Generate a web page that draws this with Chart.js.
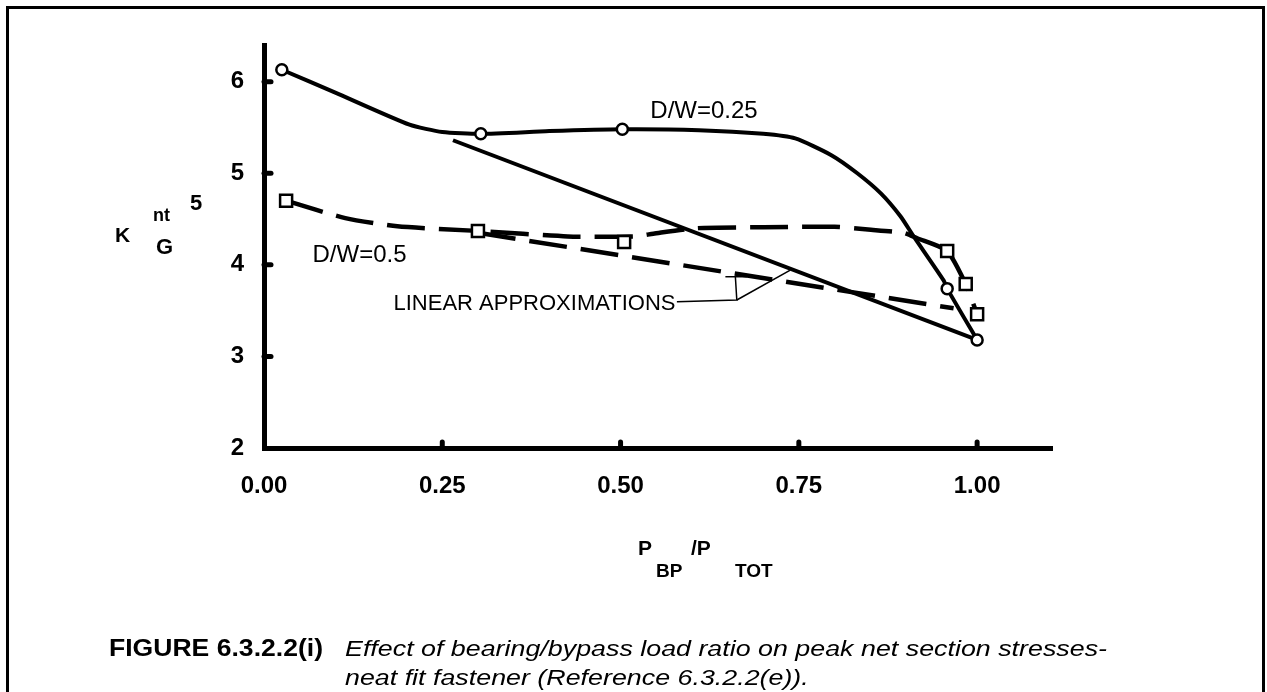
<!DOCTYPE html>
<html>
<head>
<meta charset="utf-8">
<script src="https://cdn.jsdelivr.net/npm/chart.js@4.4.1/dist/chart.umd.min.js"></script>
<style>
  html, body { margin: 0; padding: 0; background: #fff; overflow: hidden; }
  #wrap { position: relative; width: 1267px; height: 692px; }
  #frame { position: absolute; left: 6px; top: 6px; width: 1259px; height: 720px;
           border: 3px solid #000; box-sizing: border-box; }
  canvas { position: absolute; left: 0; top: 0; }
</style>
</head>
<body>
<div id="wrap">
  <div id="frame"></div>
  <canvas id="chart" width="1267" height="692"></canvas>
</div>
<script>
// tick values
const xTicks = [0, 0.25, 0.5, 0.75, 1.0];
const yTicks = [2, 3, 4, 5, 6];

// D/W = 0.25 (solid curve, circles)
const dw25CurveX = [0.025, 0.10, 0.204, 0.25, 0.304, 0.40, 0.5025, 0.61, 0.70, 0.745, 0.795, 0.832, 0.865, 0.8925, 0.911, 0.953, 0.958, 1.0];
const dw25CurveY = [6.13, 5.88, 5.53, 5.45, 5.43, 5.46, 5.48, 5.47, 5.43, 5.38, 5.20, 5.00, 4.78, 4.53, 4.31, 3.83, 3.74, 3.18];
const dw25PointX = [0.025, 0.304, 0.5025, 0.958, 1.0];
const dw25PointY = [6.13, 5.43, 5.48, 3.74, 3.18];
const dw25LinearX = [0.265, 1.0];
const dw25LinearY = [5.36, 3.18];

// D/W = 0.5 (dashed curve, squares)
const dw50CurveX = [0.031, 0.114, 0.187, 0.30, 0.426, 0.52, 0.546, 0.607, 0.70, 0.80, 0.847, 0.897, 0.916, 0.958, 0.984, 1.0];
const dw50CurveY = [4.70, 4.51, 4.42, 4.37, 4.31, 4.31, 4.34, 4.40, 4.41, 4.415, 4.385, 4.35, 4.29, 4.15, 3.79, 3.46];
const dw50PointX = [0.031, 0.300, 0.505, 0.958, 0.984, 1.0];
const dw50PointY = [4.70, 4.37, 4.25, 4.15, 3.79, 3.46];
const dw50LinearX = [0.30, 0.967];
const dw50LinearY = [4.35, 3.525];

// leader lines for "LINEAR APPROXIMATIONS"
const leaderAX = [0.579, 0.663, 0.661];
const leaderAY = [3.597, 3.616, 3.87];
const leaderBX = [0.663, 0.738];
const leaderBY = [3.616, 3.943];
const leaderBarX = [0.647, 0.677];
const leaderBarY = [3.87, 3.87];

// in-plot labels
const noteText = ['D/W=0.25', 'D/W=0.5', 'LINEAR APPROXIMATIONS'];
const noteX = [0.617, 0.134, 0.577];
const noteY = [5.674, 4.10, 3.578];

const pts = (xs, ys) => xs.map((x, i) => ({ x: x, y: ys[i] }));

const FONT = '"Liberation Sans", Arial, Helvetica, sans-serif';

function lineSet(data, opts) {
  return Object.assign({
    data: data,
    borderColor: '#000',
    borderWidth: 4,
    pointRadius: 0,
    fill: false,
    tension: 0,
    order: 5
  }, opts);
}

const annotations = {
  id: 'annotations',
  afterDatasetsDraw(chart) {
    const ctx = chart.ctx;
    const xs = chart.scales.x, ys = chart.scales.y;
    ctx.save();
    ctx.fillStyle = '#000';
    ctx.strokeStyle = '#000';

    // small inward tick bumps
    ctx.lineCap = 'round';
    ctx.lineWidth = 5;
    xs.ticks.forEach(t => {
      if (t.value === 0) return;
      const px = xs.getPixelForValue(t.value);
      ctx.beginPath();
      ctx.moveTo(px, xs.top);
      ctx.lineTo(px, xs.top - 6);
      ctx.stroke();
    });
    ys.ticks.forEach(t => {
      if (t.value === 2) return;
      const py = ys.getPixelForValue(t.value);
      ctx.beginPath();
      ctx.moveTo(ys.right, py);
      ctx.lineTo(ys.right + 7, py);
      ctx.stroke();
    });

    // notes inside the plot
    ctx.textBaseline = 'middle';
    noteText.forEach((s, i) => {
      const px = xs.getPixelForValue(noteX[i]);
      const py = ys.getPixelForValue(noteY[i]);
      if (i === 2) {
        ctx.font = '22px ' + FONT;
        ctx.textAlign = 'right';
      } else {
        ctx.font = '24px ' + FONT;
        ctx.textAlign = 'center';
      }
      ctx.fillText(s, px, py);
    });

    // y axis title  K^nt_G  5
    ctx.textBaseline = 'alphabetic';
    ctx.textAlign = 'left';
    ctx.font = 'bold 21px ' + FONT;
    ctx.fillText('K', 115, 242);
    ctx.font = 'bold 18px ' + FONT;
    ctx.fillText('nt', 153, 221);
    ctx.font = 'bold 22px ' + FONT;
    ctx.fillText('G', 156, 254);
    ctx.fillText('5', 190, 210);

    // x axis title  P_BP / P_TOT
    ctx.font = 'bold 21px ' + FONT;
    ctx.fillText('P', 638, 555);
    ctx.fillText('/P', 691, 555);
    ctx.font = 'bold 19px ' + FONT;
    ctx.fillText('BP', 656, 577);
    ctx.fillText('TOT', 735, 577);

    // caption
    ctx.font = 'bold 23px ' + FONT;
    const capW = ctx.measureText('FIGURE 6.3.2.2(i)').width;
    ctx.save();
    ctx.translate(109, 656);
    ctx.scale(214 / capW, 1);
    ctx.fillText('FIGURE 6.3.2.2(i)', 0, 0);
    ctx.restore();

    ctx.font = 'italic 22px ' + FONT;
    const line1 = 'Effect of bearing/bypass load ratio on peak net section stresses-';
    const line2 = 'neat fit fastener (Reference 6.3.2.2(e)).';
    const sx = 762 / ctx.measureText(line1).width;
    ctx.save();
    ctx.translate(345, 656);
    ctx.scale(sx, 1);
    ctx.fillText(line1, 0, 0);
    ctx.restore();
    ctx.save();
    ctx.translate(345, 685);
    ctx.scale(sx, 1);
    ctx.fillText(line2, 0, 0);
    ctx.restore();

    ctx.restore();
  }
};

new Chart(document.getElementById('chart'), {
  type: 'line',
  data: {
    datasets: [
      // markers on top
      lineSet(pts(dw25PointX, dw25PointY), {
        showLine: false, pointStyle: 'circle', pointRadius: 5.5,
        pointBorderWidth: 2.5, pointBackgroundColor: '#fff', pointBorderColor: '#000', order: 1
      }),
      lineSet(pts(dw50PointX, dw50PointY), {
        showLine: false, pointStyle: 'rect', pointRadius: 8.5,
        pointBorderWidth: 2.5, pointBackgroundColor: '#fff', pointBorderColor: '#000', order: 1
      }),
      lineSet(pts(dw25CurveX, dw25CurveY), { tension: 0.2 }),
      lineSet(pts(dw25LinearX, dw25LinearY)),
      lineSet(pts(dw50CurveX, dw50CurveY), { tension: 0.2, borderDash: [38, 14], borderWidth: 4.5 }),
      lineSet(pts(dw50LinearX, dw50LinearY), { borderDash: [38, 14], borderWidth: 4.5 }),
      lineSet(pts(leaderAX, leaderAY), { borderWidth: 1.5 }),
      lineSet(pts(leaderBX, leaderBY), { borderWidth: 1.5 }),
      lineSet(pts(leaderBarX, leaderBarY), { borderWidth: 1.5 })
    ]
  },
  options: {
    responsive: false,
    animation: false,
    events: [],
    layout: {
      autoPadding: false,
      padding: { left: 164, top: 45, right: 215, bottom: 184 }
    },
    plugins: { legend: { display: false }, tooltip: { enabled: false } },
    scales: {
      x: {
        type: 'linear',
        min: 0,
        max: 1.105,
        afterFit: s => { s.height = 60; },
        afterBuildTicks: s => { s.ticks = xTicks.map(v => ({ value: v })); },
        grid: { display: false, drawTicks: false },
        border: { display: true, color: '#000', width: 5 },
        ticks: {
          padding: 24,
          color: '#000',
          maxRotation: 0,
          font: { family: FONT, size: 24, weight: 'bold' },
          callback: v => v.toFixed(2)
        }
      },
      y: {
        type: 'linear',
        min: 2,
        max: 6.40,
        afterFit: s => { s.width = 100; },
        afterBuildTicks: s => { s.ticks = yTicks.map(v => ({ value: v })); },
        grid: { display: false, drawTicks: false },
        border: { display: true, color: '#000', width: 5 },
        ticks: {
          padding: 20,
          color: '#000',
          font: { family: FONT, size: 24, weight: 'bold' },
          callback: v => String(v)
        }
      }
    }
  },
  plugins: [annotations]
});
</script>
</body>
</html>
